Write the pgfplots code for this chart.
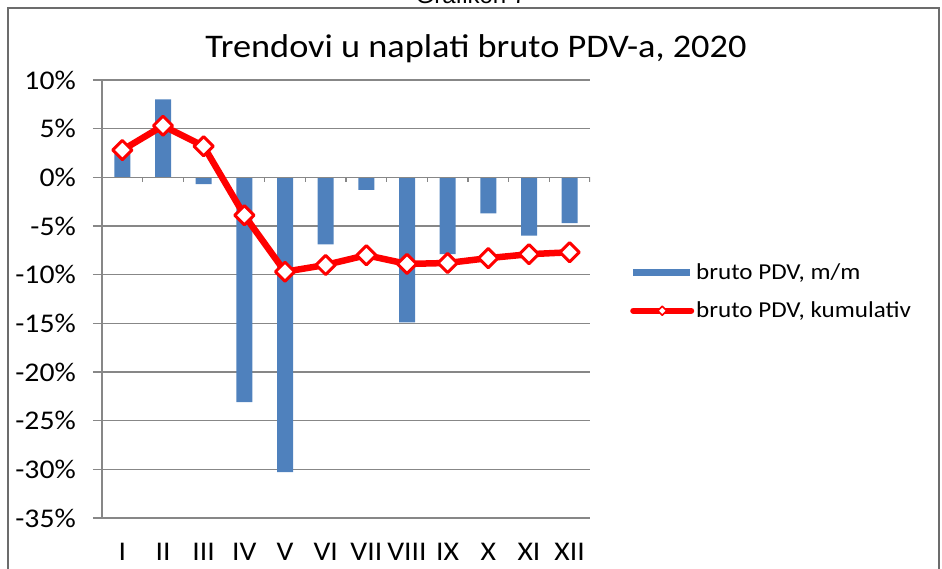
\documentclass[border=0pt]{standalone}
\usepackage{pgfplots}
\pgfplotsset{compat=1.18}
\usepackage{fontspec}
\setmainfont{Carlito}[FakeStretch=1.1]
\newfontfamily\arialf{Liberation Sans}
\definecolor{barblue}{HTML}{4F81BD}
\definecolor{gridgray}{HTML}{878787}
\begin{document}
\begin{tikzpicture}
\useasboundingbox (0pt,0pt) rectangle (942pt,569pt);
\draw[gridgray!80!black, line width=2pt] (8pt,-10pt) rectangle (939pt,561pt);
\node[anchor=base, font=\arialf\fontsize{24}{28}\selectfont] at (471pt,565pt) {Grafikon 7};
\node[anchor=base, font=\fontsize{33}{37}\selectfont] at (476pt,511pt) {Trendovi u naplati bruto PDV-a, 2020};
\begin{axis}[
  at={(102pt,51pt)}, anchor=south west,
  scale only axis, width=488pt, height=438pt,
  xmin=-0.5, xmax=11.5, ymin=-35, ymax=10,
  axis x line*=bottom, axis y line*=left,
  axis line style={gridgray, line width=1.3pt},
  xtick={0,...,11},
  xticklabels={I,II,III,IV,V,VI,VII,VIII,IX,X,XI,XII},
  x tick style={draw=none},
  ytick={-35,-30,...,10},
  yticklabels={-35\%,-30\%,-25\%,-20\%,-15\%,-10\%,-5\%,0\%,5\%,10\%},
  y tick style={gridgray, line width=1.3pt},
  tick align=outside, major tick length=9pt,
  ymajorgrids, grid style={gridgray, line width=1.3pt},
  tick label style={font=\fontsize{27}{30}\selectfont, inner sep=0pt},
  yticklabel style={anchor=east, xshift=-17pt},
  xticklabel style={anchor=north, yshift=-16pt},
  legend style={at={(1.082,0.517)}, anchor=west, draw=none, fill=none,
    font=\fontsize{22.8}{26}\selectfont, row sep=17pt, inner sep=0pt,
    nodes={inner sep=2pt}},
  legend cell align=left,
]
\addplot[ybar, bar width=16pt, fill=barblue, draw=none,
  legend image code/.code={\fill[barblue] (0pt,-3.5pt) rectangle (57pt,3.5pt);}]
coordinates {(0,2.4) (1,8.0) (2,-0.7) (3,-23.1) (4,-30.3) (5,-6.9) (6,-1.3) (7,-14.9) (8,-7.9) (9,-3.7) (10,-6.0) (11,-4.7)};
\addlegendentry{bruto PDV, m/m}
\draw[gridgray, line width=1.3pt] (axis cs:-0.5,0) -- (axis cs:11.5,0);
\pgfplotsinvokeforeach{0.5,1.5,...,11.5}{\draw[gridgray, line width=1.3pt] (axis cs:#1,0) -- ++(0pt,-5pt);}
\addplot[red, line width=6.5pt, line join=round, mark=square*, mark size=6.8pt,
  mark options={rotate=45, fill=white, draw=red, line width=3pt, solid},
  legend image code/.code={
    \draw[red, line width=6pt, line cap=round] (0pt,0pt) -- (58pt,0pt);
    \draw[red, line width=1.6pt, fill=white] (29pt,4.5pt) -- (33.5pt,0pt) -- (29pt,-4.5pt) -- (24.5pt,0pt) -- cycle;}]
coordinates {(0,2.8) (1,5.3) (2,3.2) (3,-3.9) (4,-9.7) (5,-9.0) (6,-8.0) (7,-8.9) (8,-8.8) (9,-8.3) (10,-7.9) (11,-7.7)};
\addlegendentry{bruto PDV, kumulativ}
\end{axis}
\end{tikzpicture}
\end{document}
